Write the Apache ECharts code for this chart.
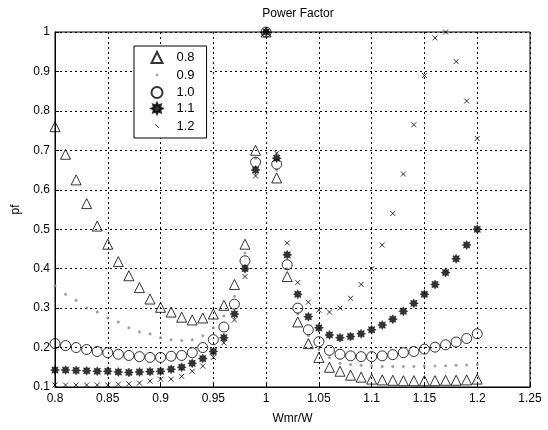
<!DOCTYPE html>
<html>
<head>
<meta charset="utf-8">
<script src="https://cdn.jsdelivr.net/npm/echarts@6/dist/echarts.min.js"></script>
<style>html,body{margin:0;padding:0;background:#fff}#c{width:548px;height:430px}</style>
</head>
<body>
<div id="c"></div>
<script>
var xValues = [0.80,0.81,0.82,0.83,0.84,0.85,0.86,0.87,0.88,0.89,0.90,0.91,0.92,0.93,0.94,0.95,0.96,0.97,0.98,0.99,1.00,1.01,1.02,1.03,1.04,1.05,1.06,1.07,1.08,1.09,1.10,1.11,1.12,1.13,1.14,1.15,1.16,1.17,1.18,1.19,1.20];
var seriesNames = ['0.8','0.9','1.0','1.1','1.2'];
var pf08 = [0.76,0.69,0.625,0.565,0.508,0.462,0.418,0.382,0.352,0.323,0.302,0.29,0.277,0.27,0.275,0.285,0.307,0.36,0.462,0.70,1.0,0.63,0.38,0.265,0.21,0.175,0.15,0.14,0.13,0.125,0.12,0.118,0.117,0.116,0.116,0.116,0.116,0.117,0.117,0.118,0.12];
var pf09 = [0.357,0.335,0.32,0.30,0.29,0.275,0.265,0.25,0.24,0.235,0.225,0.22,0.218,0.22,0.23,0.25,0.28,0.33,0.44,0.68,1.0,0.65,0.40,0.285,0.23,0.195,0.175,0.16,0.157,0.155,0.153,0.152,0.152,0.152,0.152,0.153,0.153,0.154,0.155,0.156,0.157];
var pf10 = [0.21,0.205,0.20,0.195,0.19,0.187,0.183,0.18,0.177,0.175,0.175,0.178,0.18,0.187,0.20,0.22,0.252,0.31,0.42,0.67,1.0,0.665,0.41,0.30,0.245,0.215,0.193,0.183,0.179,0.177,0.177,0.179,0.182,0.187,0.19,0.196,0.201,0.207,0.214,0.223,0.235];
var pf11 = [0.143,0.143,0.142,0.141,0.14,0.14,0.138,0.137,0.138,0.139,0.14,0.145,0.15,0.16,0.172,0.19,0.225,0.285,0.40,0.65,1.0,0.68,0.435,0.335,0.278,0.25,0.232,0.225,0.228,0.235,0.245,0.257,0.272,0.292,0.312,0.335,0.36,0.39,0.425,0.46,0.50];
var pf12 = [0.105,0.105,0.105,0.105,0.105,0.105,0.107,0.108,0.11,0.115,0.12,0.12,0.127,0.14,0.153,0.175,0.212,0.27,0.38,0.635,1.0,0.693,0.465,0.365,0.315,0.295,0.29,0.30,0.325,0.36,0.40,0.46,0.54,0.64,0.765,0.89,0.985,1.0,0.925,0.825,0.73];

function pairs(ys){ return xValues.map(function(x,i){ return [x, ys[i]]; }); }

var starPath = 'path://M5,0L6.15,2.23L8.54,1.46L7.77,3.85L10,5L7.77,6.15L8.54,8.54L6.15,7.77L5,10L3.85,7.77L1.46,8.54L2.23,6.15L0,5L2.23,3.85L1.46,1.46L3.85,2.23Z';
var xPath = 'path://M0,0L10,10M10,0L0,10';
var dotLegend = 'path://M0,0M12,12M4.5,6L7.5,6M6,4.5L6,7.5';
var slashLegend = 'path://M0,0M12,12M4,4L8,8';

var font = 'Liberation Sans, Arial, sans-serif';
var chart = echarts.init(document.getElementById('c'), null, {renderer:'canvas'});
chart.setOption({
  animation: false,
  backgroundColor: '#fff',
  title: {
    text: 'Power Factor', left: 293, top: 3, textAlign: 'center',
    textStyle: {fontFamily: font, fontSize: 12, fontWeight: 'normal', color: '#000'}
  },
  grid: {left: 55, right: 18, top: 32, bottom: 37, show: true, borderColor: '#000', borderWidth: 1, containLabel: false},
  legend: {
    orient: 'vertical', left: 134, top: 46,
    backgroundColor: '#fff', borderColor: '#000', borderWidth: 1,
    padding: [5, 12, 4, 15], itemGap: 3, itemWidth: 11, itemHeight: 11,
    textStyle: {fontFamily: font, fontSize: 13, lineHeight: 12, color: '#000', padding: [0,0,0,9]},
    data: [
      {name: seriesNames[0], icon: 'triangle'},
      {name: seriesNames[1], icon: dotLegend, itemStyle: {color: 'none', borderColor: '#777', borderWidth: 1}},
      {name: seriesNames[2], icon: 'circle'},
      {name: seriesNames[3], icon: starPath},
      {name: seriesNames[4], icon: slashLegend, itemStyle: {color: 'none', borderColor: '#000', borderWidth: 1}}
    ]
  },
  xAxis: {
    type: 'value', min: 0.8, max: 1.25, interval: 0.05,
    name: 'Wmr/W', nameLocation: 'middle', nameGap: 26,
    nameTextStyle: {fontFamily: font, fontSize: 12, color: '#000'},
    axisLine: {lineStyle: {color: '#000', width: 1}},
    axisTick: {inside: true, length: 4, lineStyle: {color: '#000'}},
    axisLabel: {fontFamily: font, fontSize: 12, color: '#000', margin: 6,
      formatter: function(v){ return String(+v.toFixed(2)); }},
    splitLine: {show: true, lineStyle: {color: '#000', type: [2, 3], width: 1}}
  },
  yAxis: {
    type: 'value', min: 0.1, max: 1, interval: 0.1,
    name: 'pf', nameLocation: 'middle', nameGap: 33, nameRotate: 90,
    nameTextStyle: {fontFamily: font, fontSize: 12, color: '#000'},
    axisLine: {show: true, lineStyle: {color: '#000', width: 1}},
    axisTick: {show: true, inside: true, length: 4, lineStyle: {color: '#000'}},
    axisLabel: {fontFamily: font, fontSize: 12, color: '#000', margin: 5,
      formatter: function(v){ return String(+v.toFixed(2)); }},
    splitLine: {show: true, lineStyle: {color: '#000', type: [2, 3], width: 1}}
  },
  series: [
    {name: seriesNames[0], type: 'scatter', data: pairs(pf08), symbol: 'triangle', symbolSize: 10,
      itemStyle: {color: 'transparent', borderColor: '#000', borderWidth: 1}, z: 3},
    {name: seriesNames[1], type: 'scatter', data: pairs(pf09), symbol: 'circle', symbolSize: 3,
      itemStyle: {color: '#888', borderColor: '#888', borderWidth: 0}, z: 2},
    {name: seriesNames[2], type: 'scatter', data: pairs(pf10), symbol: 'circle', symbolSize: 10,
      itemStyle: {color: 'transparent', borderColor: '#000', borderWidth: 1}, z: 3},
    {name: seriesNames[3], type: 'scatter', data: pairs(pf11), symbol: starPath, symbolSize: 9,
      itemStyle: {color: '#000', borderColor: '#000', borderWidth: 0.5}, z: 4},
    {name: seriesNames[4], type: 'scatter', data: pairs(pf12), symbol: xPath, symbolSize: 5,
      itemStyle: {color: 'none', borderColor: '#000', borderWidth: 1}, z: 4}
  ]
});
</script>
</body>
</html>
